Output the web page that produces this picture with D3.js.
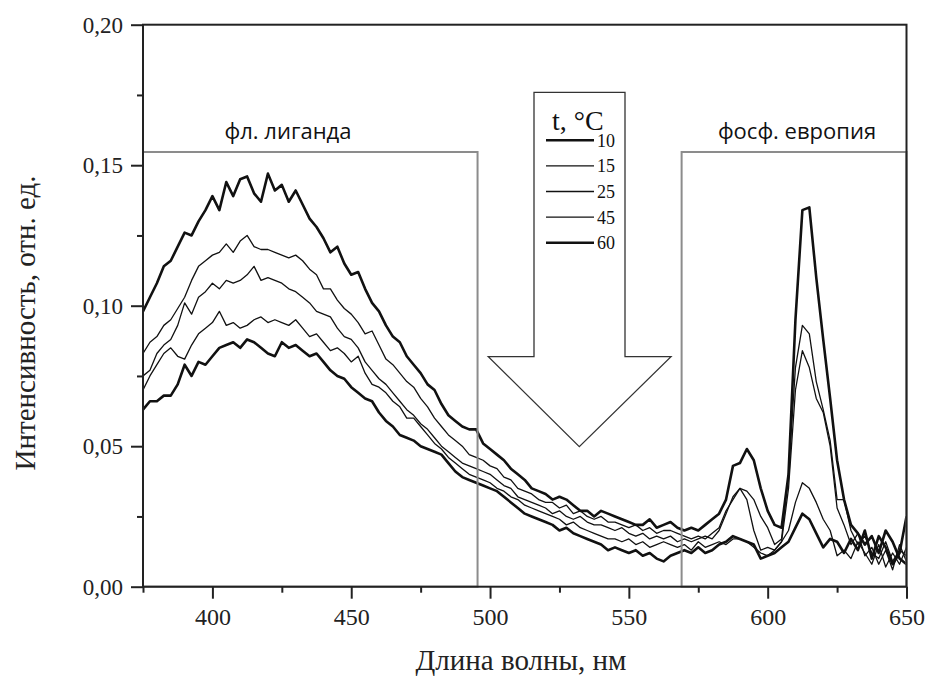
<!DOCTYPE html>
<html><head><meta charset="utf-8">
<script src="https://cdn.jsdelivr.net/npm/d3@7"></script>
<style>body{margin:0;background:#fff}svg{display:block}</style>
</head><body><svg id="c" width="929" height="679"></svg>
<script>
const wavelengths = d3.range(111).map(i => 375 + 2.5 * i);
const temps = ["10", "15", "25", "45", "60"];
const s10 = [0.098,0.103,0.108,0.114,0.116,0.121,0.126,0.125,0.130,0.134,0.139,0.134,0.144,0.139,0.145,0.146,0.140,0.137,0.147,0.141,0.143,0.137,0.141,0.136,0.131,0.128,0.124,0.119,0.121,0.115,0.111,0.112,0.106,0.101,0.098,0.093,0.089,0.087,0.082,0.079,0.076,0.072,0.070,0.065,0.061,0.059,0.057,0.056,0.056,0.051,0.049,0.047,0.045,0.042,0.040,0.038,0.035,0.034,0.033,0.031,0.032,0.031,0.029,0.027,0.027,0.025,0.027,0.026,0.025,0.024,0.023,0.022,0.022,0.024,0.021,0.022,0.023,0.021,0.020,0.021,0.020,0.022,0.024,0.026,0.031,0.043,0.044,0.049,0.045,0.035,0.027,0.022,0.021,0.040,0.095,0.134,0.135,0.110,0.088,0.067,0.045,0.031,0.022,0.019,0.015,0.018,0.012,0.020,0.016,0.010,0.008];
const s15 = [0.083,0.087,0.089,0.093,0.095,0.099,0.103,0.109,0.114,0.116,0.118,0.119,0.122,0.119,0.123,0.125,0.121,0.120,0.120,0.119,0.118,0.117,0.118,0.116,0.113,0.111,0.106,0.106,0.102,0.099,0.097,0.094,0.090,0.091,0.086,0.081,0.079,0.076,0.073,0.071,0.067,0.064,0.060,0.057,0.054,0.052,0.050,0.047,0.046,0.045,0.043,0.042,0.039,0.038,0.035,0.034,0.033,0.031,0.030,0.030,0.028,0.029,0.026,0.027,0.025,0.024,0.025,0.023,0.023,0.022,0.021,0.022,0.020,0.021,0.019,0.020,0.020,0.019,0.018,0.017,0.018,0.017,0.019,0.021,0.027,0.031,0.035,0.034,0.031,0.025,0.021,0.015,0.017,0.040,0.078,0.093,0.090,0.073,0.063,0.052,0.031,0.031,0.020,0.015,0.018,0.012,0.010,0.016,0.009,0.013,0.011];
const s25 = [0.075,0.077,0.083,0.086,0.088,0.093,0.101,0.097,0.103,0.105,0.108,0.106,0.109,0.108,0.109,0.111,0.114,0.109,0.110,0.109,0.108,0.106,0.105,0.103,0.101,0.098,0.097,0.096,0.092,0.089,0.088,0.085,0.080,0.077,0.074,0.072,0.069,0.066,0.063,0.061,0.058,0.056,0.053,0.050,0.048,0.046,0.044,0.043,0.042,0.041,0.040,0.038,0.036,0.035,0.032,0.031,0.030,0.029,0.028,0.026,0.027,0.025,0.024,0.025,0.023,0.022,0.022,0.021,0.020,0.021,0.019,0.018,0.019,0.017,0.018,0.017,0.018,0.016,0.017,0.016,0.017,0.018,0.017,0.020,0.026,0.032,0.035,0.031,0.020,0.013,0.014,0.013,0.016,0.035,0.070,0.084,0.078,0.067,0.062,0.050,0.028,0.022,0.015,0.019,0.011,0.014,0.008,0.013,0.006,0.015,0.009];
const s45 = [0.070,0.075,0.079,0.083,0.085,0.082,0.081,0.086,0.090,0.092,0.094,0.098,0.093,0.094,0.092,0.093,0.095,0.096,0.094,0.095,0.094,0.093,0.095,0.092,0.089,0.090,0.087,0.084,0.085,0.083,0.080,0.082,0.076,0.072,0.071,0.069,0.066,0.064,0.060,0.060,0.057,0.054,0.051,0.049,0.046,0.044,0.042,0.040,0.039,0.038,0.037,0.035,0.034,0.032,0.031,0.029,0.028,0.027,0.026,0.025,0.024,0.022,0.023,0.021,0.020,0.019,0.018,0.017,0.017,0.016,0.017,0.015,0.016,0.014,0.015,0.016,0.015,0.014,0.015,0.013,0.016,0.014,0.015,0.016,0.015,0.017,0.017,0.016,0.014,0.012,0.011,0.013,0.016,0.020,0.030,0.037,0.035,0.030,0.024,0.020,0.011,0.013,0.010,0.016,0.012,0.008,0.015,0.007,0.012,0.008,0.014];
const s60 = [0.063,0.066,0.066,0.068,0.068,0.072,0.079,0.075,0.080,0.079,0.082,0.085,0.086,0.087,0.085,0.088,0.087,0.085,0.083,0.082,0.087,0.085,0.086,0.084,0.082,0.083,0.080,0.077,0.075,0.074,0.071,0.069,0.067,0.066,0.062,0.059,0.057,0.054,0.053,0.052,0.050,0.049,0.048,0.047,0.044,0.041,0.039,0.038,0.037,0.036,0.035,0.034,0.032,0.030,0.028,0.026,0.025,0.024,0.023,0.022,0.020,0.021,0.019,0.018,0.017,0.016,0.015,0.013,0.014,0.013,0.012,0.013,0.011,0.012,0.010,0.009,0.011,0.012,0.013,0.012,0.014,0.012,0.013,0.015,0.016,0.018,0.017,0.016,0.015,0.010,0.011,0.012,0.014,0.016,0.021,0.026,0.024,0.019,0.014,0.017,0.016,0.012,0.017,0.013,0.020,0.010,0.018,0.014,0.008,0.012,0.025];
const seriesValues = [s10, s15, s25, s45, s60];
const thick = [true, false, false, false, true];
const xMajorTicks = [400, 450, 500, 550, 600, 650];
const xMinorTicks = [375, 425, 475, 525, 575, 625];
const yMajorTicks = [0, 0.05, 0.10, 0.15, 0.20];
const yMinorTicks = [0.025, 0.075, 0.125, 0.175];
const regionLabels = ["фл. лиганда", "фосф. европия"];
const regionFrom = [375, 569];
const regionTo = [495.5, 650];
const regionTop = 0.1547;
const xTitle = "Длина волны, нм";
const yTitle = "Интенсивность, отн. ед.";
const legendTitle = "t, °C";

const svg = d3.select("#c");
const x = d3.scaleLinear().domain([375, 650]).range([143, 906.5]);
const y = d3.scaleLinear().domain([0, 0.2]).range([586.7, 24.7]);
const serif = "'Liberation Serif','Times New Roman',serif";
const sans = "'Open Sans','Noto Sans',sans-serif";
const fmt = d => d3.format(".2f")(d).replace(".", ",");

// curves
svg.append("defs").append("clipPath").attr("id", "clip").append("rect")
  .attr("x", x(375)).attr("y", y(0.2)).attr("width", x(650) - x(375)).attr("height", y(0) - y(0.2));
const line = d3.line().x((d, i) => x(wavelengths[i])).y(d => y(d));
const g = svg.append("g").attr("clip-path", "url(#clip)");
seriesValues.forEach((s, k) => {
  g.append("path").attr("d", line(s)).attr("fill", "none")
    .attr("stroke", "#111").attr("stroke-width", thick[k] ? 2.6 : 1.3).attr("stroke-linejoin", "round");
});

// region boxes
const labelCenters = [288, 797];
regionLabels.forEach((lab, k) => {
  svg.append("rect").attr("x", x(regionFrom[k])).attr("y", y(regionTop))
    .attr("width", x(regionTo[k]) - x(regionFrom[k])).attr("height", y(0) - y(regionTop))
    .attr("fill", "none").attr("stroke", "#8c8c8c").attr("stroke-width", 2);
  svg.append("text").attr("x", labelCenters[k]).attr("y", y(regionTop) - 13)
    .attr("text-anchor", "middle").attr("font-family", sans).attr("font-size", 22).attr("fill", "#111").text(lab);
});

// frame
svg.append("rect").attr("x", x(375)).attr("y", y(0.2)).attr("width", x(650) - x(375)).attr("height", y(0) - y(0.2))
  .attr("fill", "none").attr("stroke", "#222").attr("stroke-width", 2);

// axes
function styleAxis(sel) {
  sel.select(".domain").remove();
  sel.selectAll("line").attr("stroke", "#222").attr("stroke-width", 2);
  sel.selectAll("text").attr("font-family", serif).attr("fill", "#222");
}
svg.append("g").attr("transform", `translate(${x(375)},0)`)
  .call(d3.axisLeft(y).tickValues(yMajorTicks).tickFormat(fmt).tickSize(12).tickPadding(8))
  .call(styleAxis).selectAll("text").attr("font-size", 23);
svg.append("g").attr("transform", `translate(${x(375)},0)`)
  .call(d3.axisLeft(y).tickValues(yMinorTicks).tickFormat("").tickSize(6)).call(styleAxis);
svg.append("g").attr("transform", `translate(0,${y(0)})`)
  .call(d3.axisBottom(x).tickValues(xMajorTicks).tickSize(12).tickPadding(9))
  .call(styleAxis).selectAll("text").attr("font-size", 24);
svg.append("g").attr("transform", `translate(0,${y(0)})`)
  .call(d3.axisBottom(x).tickValues(xMinorTicks).tickFormat("").tickSize(6)).call(styleAxis);

// titles
svg.append("text").attr("x", 521).attr("y", 670).attr("text-anchor", "middle")
  .attr("font-family", serif).attr("font-size", 29).attr("fill", "#222").text(xTitle);
svg.append("text").attr("transform", "translate(35,323) rotate(-90)").attr("text-anchor", "middle")
  .attr("font-family", serif).attr("font-size", 29).attr("fill", "#222").text(yTitle);

// arrow with legend
const ax = {l: 534, r: 625, t: 92.3, sb: 356.7, hl: 488.3, hr: 671, tipX: 579.3, tipY: 446.7};
svg.append("path")
  .attr("d", `M${ax.l},${ax.t}L${ax.r},${ax.t}L${ax.r},${ax.sb}L${ax.hr},${ax.sb}L${ax.tipX},${ax.tipY}L${ax.hl},${ax.sb}L${ax.l},${ax.sb}Z`)
  .attr("fill", "#fff").attr("stroke", "#333").attr("stroke-width", 1.3);
svg.append("text").attr("x", 552).attr("y", 130).attr("font-family", serif).attr("font-size", 28).attr("fill", "#111").text(legendTitle);
temps.forEach((t, k) => {
  const yy = 140.3 + k * 25.6;
  svg.append("line").attr("x1", 546).attr("x2", 594).attr("y1", yy).attr("y2", yy)
    .attr("stroke", "#111").attr("stroke-width", thick[k] ? 2.6 : 1.3);
  svg.append("text").attr("x", 597).attr("y", yy + 6.5).attr("font-family", serif).attr("font-size", 18).attr("fill", "#111").text(t);
});
</script></body></html>
